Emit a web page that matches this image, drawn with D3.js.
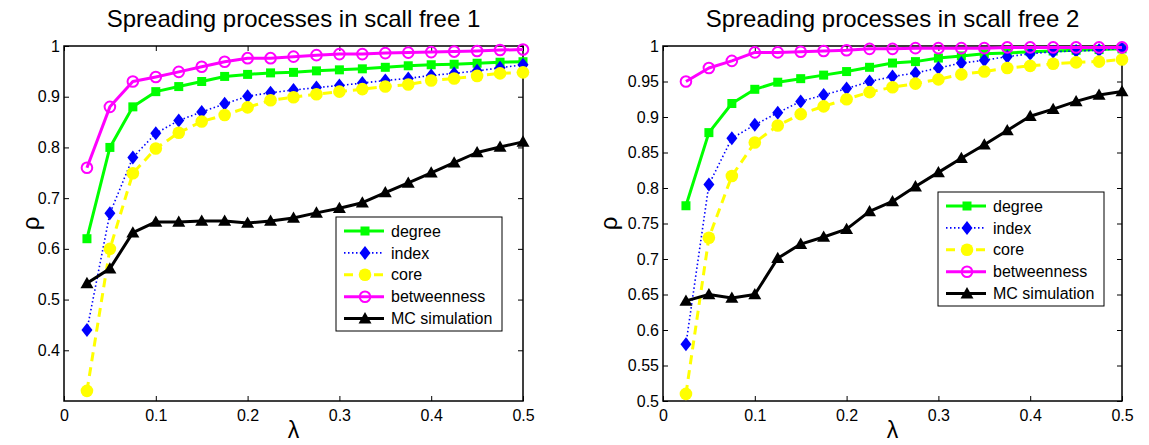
<!DOCTYPE html>
<html>
<head>
<meta charset="utf-8">
<script src="https://cdn.jsdelivr.net/npm/d3@7"></script>
<style>
  body { margin: 0; background: #fff; }
  svg { font-family: "Liberation Sans", Arial, sans-serif; }
</style>
</head>
<body>
<svg id="fig"></svg>
<script>
// ---- data ----
const lambda = [0.025, 0.05, 0.075, 0.1, 0.125, 0.15, 0.175, 0.2, 0.225, 0.25,
                0.275, 0.3, 0.325, 0.35, 0.375, 0.4, 0.425, 0.45, 0.475, 0.5];

const xTicks = [0, 0.1, 0.2, 0.3, 0.4, 0.5];
const yTicks1 = [0.4, 0.5, 0.6, 0.7, 0.8, 0.9, 1];
const yTicks2 = [0.5, 0.55, 0.6, 0.65, 0.7, 0.75, 0.8, 0.85, 0.9, 0.95, 1];

const titles = ["Spreading processes in scall free 1", "Spreading processes in scall free 2"];
const seriesNames = ["degree", "index", "core", "betweenness", "MC simulation"];

// scall free 1
const degree1 = [0.62, 0.80, 0.88, 0.91, 0.92, 0.93, 0.94, 0.944, 0.947, 0.948,
                 0.951, 0.953, 0.955, 0.958, 0.961, 0.963, 0.964, 0.966, 0.968, 0.969];
const index1 = [0.44, 0.67, 0.78, 0.828, 0.853, 0.87, 0.886, 0.901, 0.908, 0.913,
                0.918, 0.922, 0.927, 0.932, 0.936, 0.942, 0.946, 0.951, 0.957, 0.963];
const core1 = [0.32, 0.60, 0.749, 0.798, 0.829, 0.851, 0.864, 0.879, 0.893, 0.899,
               0.905, 0.91, 0.915, 0.92, 0.924, 0.932, 0.936, 0.941, 0.946, 0.948];
const betweenness1 = [0.76, 0.88, 0.93, 0.939, 0.949, 0.959, 0.969, 0.976, 0.976, 0.979,
                      0.982, 0.984, 0.984, 0.986, 0.987, 0.988, 0.989, 0.99, 0.992, 0.993];
const mc1 = [0.532, 0.561, 0.632, 0.653, 0.653, 0.655, 0.655, 0.651, 0.655, 0.661,
             0.671, 0.68, 0.691, 0.711, 0.73, 0.75, 0.77, 0.79, 0.801, 0.811];

// scall free 2
const degree2 = [0.775, 0.878, 0.919, 0.939, 0.949, 0.954, 0.959, 0.964, 0.97, 0.976,
                 0.978, 0.983, 0.986, 0.989, 0.99, 0.992, 0.993, 0.994, 0.995, 0.996];
const index2 = [0.58, 0.805, 0.87, 0.889, 0.906, 0.922, 0.931, 0.94, 0.95, 0.957,
                0.962, 0.969, 0.976, 0.98, 0.985, 0.989, 0.992, 0.993, 0.994, 0.997];
const core2 = [0.51, 0.73, 0.817, 0.864, 0.888, 0.904, 0.915, 0.925, 0.935, 0.942,
               0.947, 0.953, 0.96, 0.964, 0.969, 0.972, 0.975, 0.977, 0.978, 0.981];
const betweenness2 = [0.95, 0.969, 0.979, 0.991, 0.991, 0.992, 0.993, 0.994, 0.996, 0.996,
                      0.997, 0.997, 0.997, 0.997, 0.998, 0.998, 0.998, 0.998, 0.998, 0.998];
const mc2 = [0.641, 0.65, 0.645, 0.65, 0.701, 0.721, 0.731, 0.742, 0.767, 0.781,
             0.802, 0.822, 0.842, 0.861, 0.881, 0.901, 0.911, 0.922, 0.931, 0.936];

// ---- styles ----
const styles = [
  { color: "#00ff00", width: 3, dash: null, marker: "square" },
  { color: "#0000ff", width: 1.6, dash: "1.5,2.5", marker: "diamond" },
  { color: "#ffff00", width: 3, dash: "9,6", marker: "disc" },
  { color: "#ff00ff", width: 3, dash: null, marker: "ring" },
  { color: "#000000", width: 3, dash: null, marker: "triangle" }
];

const W = 1149, H = 445;
const svg = d3.select("#fig").attr("width", W).attr("height", H);

function drawMarker(g, type, color) {
  if (type === "square") {
    g.append("rect").attr("x", -4.5).attr("y", -4.5).attr("width", 9).attr("height", 9)
      .attr("fill", color);
  } else if (type === "diamond") {
    g.append("path").attr("d", "M0,-7L5.5,0L0,7L-5.5,0Z").attr("fill", color);
  } else if (type === "disc") {
    g.append("circle").attr("r", 6.3).attr("fill", color);
  } else if (type === "ring") {
    g.append("circle").attr("r", 5.3).attr("fill", "none")
      .attr("stroke", color).attr("stroke-width", 2);
  } else {
    g.append("path").attr("d", "M0,-6.5L6.5,4.8L-6.5,4.8Z").attr("fill", color);
  }
}

function drawChart(cfg) {
  const width = 459, height = 355;
  const g = svg.append("g").attr("transform", `translate(${cfg.left}, 46)`);

  const x = d3.scaleLinear().domain([0, 0.5]).range([0, width]);
  const y = d3.scaleLinear().domain(cfg.yDomain).range([height, 0]);
  const fmt = d => String(+d.toFixed(2));

  // axes with inward ticks on all four sides
  const xb = g.append("g").attr("transform", `translate(0, ${height})`)
    .call(d3.axisBottom(x).tickValues(xTicks).tickFormat(fmt).tickSizeInner(-5).tickSizeOuter(0).tickPadding(9));
  const xt = g.append("g")
    .call(d3.axisTop(x).tickValues(xTicks).tickFormat("").tickSizeInner(-5).tickSizeOuter(0));
  const yl = g.append("g")
    .call(d3.axisLeft(y).tickValues(cfg.yTicks).tickFormat(fmt).tickSizeInner(-5).tickSizeOuter(0).tickPadding(4));
  const yr = g.append("g").attr("transform", `translate(${width}, 0)`)
    .call(d3.axisRight(y).tickValues(cfg.yTicks).tickFormat("").tickSizeInner(-5).tickSizeOuter(0));

  [xb, xt, yl, yr].forEach(a => {
    a.select(".domain").remove();
    a.selectAll(".tick line").attr("stroke", "#000").attr("stroke-width", 1);
    a.selectAll("text").attr("font-size", 16).attr("fill", "#000")
      .attr("font-family", "'Liberation Sans', Arial, sans-serif");
  });

  g.append("rect").attr("width", width).attr("height", height)
    .attr("fill", "none").attr("stroke", "#000").attr("stroke-width", 1.5);

  // series
  const line = d3.line().x((d, i) => x(lambda[i])).y(d => y(d));
  cfg.series.forEach((vals, k) => {
    const st = styles[k];
    const sg = g.append("g");
    sg.append("path").attr("d", line(vals))
      .attr("fill", "none").attr("stroke", st.color).attr("stroke-width", st.width)
      .attr("stroke-dasharray", st.dash).attr("stroke-linejoin", "round");
    vals.forEach((v, i) => {
      const m = sg.append("g").attr("transform", `translate(${x(lambda[i])}, ${y(v)})`);
      drawMarker(m, st.marker, st.color);
    });
  });

  // legend
  const lg = g.append("g").attr("transform", `translate(${cfg.legend[0]}, ${cfg.legend[1]})`);
  lg.append("rect").attr("width", 166).attr("height", 114)
    .attr("fill", "#fff").attr("stroke", "#000").attr("stroke-width", 1);
  seriesNames.forEach((name, k) => {
    const st = styles[k];
    const ry = 14 + k * 21.9;
    lg.append("line").attr("x1", 8).attr("x2", 48).attr("y1", ry).attr("y2", ry)
      .attr("stroke", st.color).attr("stroke-width", st.width)
      .attr("stroke-dasharray", st.dash);
    const m = lg.append("g").attr("transform", `translate(29, ${ry})`);
    drawMarker(m, st.marker, st.color);
    lg.append("text").attr("x", 55).attr("y", ry).attr("dy", "0.35em")
      .attr("font-size", 16).text(name);
  });

  // titles and labels
  g.append("text").attr("x", width / 2).attr("y", -19).attr("text-anchor", "middle")
    .attr("font-size", 24).text(cfg.title);
  g.append("text").attr("x", width / 2).attr("y", height + 37).attr("text-anchor", "middle")
    .attr("font-size", 23).text("λ");
  g.append("text").attr("transform", `translate(${cfg.ylabelX}, ${height / 2}) rotate(-90)`)
    .attr("text-anchor", "middle").attr("dy", "0.35em")
    .attr("font-size", 24).text("ρ");
}

drawChart({
  left: 64, title: titles[0], yDomain: [0.3, 1], yTicks: yTicks1,
  series: [degree1, index1, core1, betweenness1, mc1],
  legend: [272, 171], ylabelX: -33
});
drawChart({
  left: 663, title: titles[1], yDomain: [0.5, 1], yTicks: yTicks2,
  series: [degree2, index2, core2, betweenness2, mc2],
  legend: [275, 146], ylabelX: -54
});
</script>
</body>
</html>
